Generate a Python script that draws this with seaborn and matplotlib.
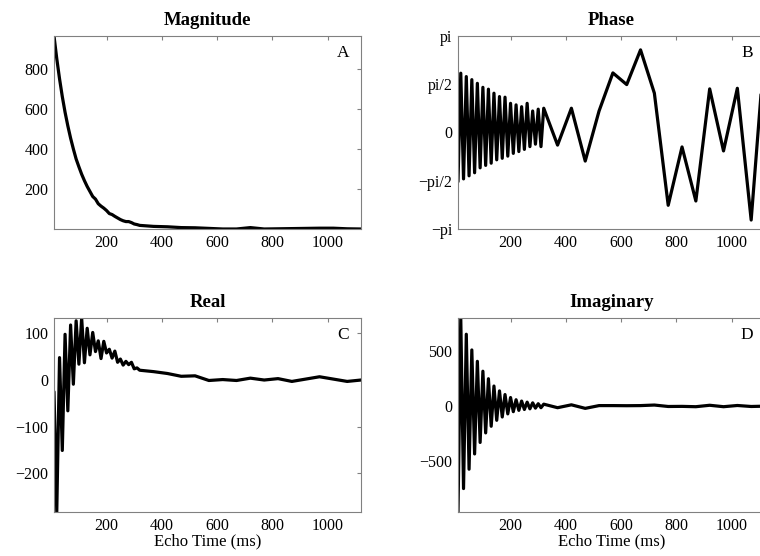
import matplotlib
matplotlib.use("Agg")
import matplotlib.pyplot as plt
import numpy as np
import pandas as pd
import seaborn as sns

# ── Style ─────────────────────────────────────────────────────────────────────
sns.set_theme(style="white")
plt.rcParams.update({
    "font.family": ["Liberation Serif", "DejaVu Serif"],
    "axes.edgecolor": "#808080",
    "axes.linewidth": 0.8,
    "axes.unicode_minus": True,
    "text.color": "black",
    "axes.labelcolor": "black",
    "axes.titlecolor": "black",
    "xtick.labelcolor": "black",
    "ytick.labelcolor": "black",
})
LINE = "black"

# ── Data ──────────────────────────────────────────────────────────────────────
echo_time = [10, 20, 30, 40, 50, 60, 70, 80, 90, 100, 110, 120, 130, 140, 150, 160,
             170, 180, 190, 200, 210, 220, 230, 240, 250, 260, 270, 280, 290, 300,
             310, 320, 370, 420, 470, 520, 570, 620, 670, 720, 770, 820, 870, 920,
             970, 1020, 1070, 1120]

magnitude = [965, 852, 752, 663, 585, 517, 456, 402, 352, 313, 276, 244, 215, 190,
             165, 152, 129, 117, 107, 95, 80, 75, 66, 58, 50, 44, 40, 40, 35, 28,
             25, 21, 16, 14, 10, 9, 6, 3, 3, 10, 3, 4, 5, 6, 7, 7, 4, 3]

phase = [-1.60, 1.93, -1.51, 1.82, -1.41, 1.72, -1.31, 1.60, -1.15, 1.47, -1.07,
         1.41, -1.00, 1.28, -0.89, 1.17, -0.84, 1.15, -0.77, 0.95, -0.68, 0.90,
         -0.62, 0.84, -0.55, 0.95, -0.46, 0.70, -0.38, 0.76, -0.46, 0.79,
         -0.41, 0.79, -0.93, 0.70, 1.94, 1.56, 2.69, 1.28, -2.37, -0.47, -2.23,
         1.42, -0.60, 1.44, -2.85, 2.90]

real = [-25, -283, 48, -151, 98, -66, 118, -9, 127, 34, 133, 37, 111, 54, 102, 61,
        84, 46, 83, 58, 66, 47, 62, 38, 45, 32, 40, 33, 38, 24, 26, 21,
        18, 14, 8, 9, -1, 1, -1, 4, 0, 3, -3, 2, 7, 2, -3, 0]

imaginary = [-957, 797, -745, 650, -570, 508, -432, 405, -328, 316, -242, 248, -182,
             182, -128, 138, -98, 105, -70, 78, -50, 58, -38, 46, -30, 36, -24, 30,
             -18, 22, -14, 18, -14, 12, -20, 5, 5, 4, 5, 10, -3, -2, -5, 8, -5, 6,
             -3, 0]

df = pd.DataFrame({"t": echo_time, "Magnitude": magnitude, "Phase": phase,
                   "Real": real, "Imaginary": imaginary})

# ── Layout (pixel boxes of the reference, 760x556) ────────────────────────────
W, H = 760, 556
boxes = {
    "Magnitude": (54, 36, 307, 193),
    "Phase":     (458, 36, 307, 193),
    "Real":      (54, 318, 307, 194),
    "Imaginary": (458, 318, 307, 194),
}
letters = {"Magnitude": "A", "Phase": "B", "Real": "C", "Imaginary": "D"}

fig = plt.figure(figsize=(W / 100, H / 100), dpi=100)

for name, (x0, y0, w, h) in boxes.items():
    ax = fig.add_axes([x0 / W, 1 - (y0 + h) / H, w / W, h / H])
    sns.lineplot(data=df, x="t", y=name, ax=ax, color=LINE, lw=2.3,
                 estimator=None, sort=False)
    ax.set_xlim(min(echo_time), max(echo_time))
    ax.set_xticks([200, 400, 600, 800, 1000])
    ax.set_ylabel("")
    ax.set_xlabel("")
    if name == "Phase":
        ax.set_ylim(-np.pi, np.pi)
        ax.set_yticks([-np.pi, -np.pi / 2, 0, np.pi / 2, np.pi])
        ax.set_yticklabels(["\u2212pi", "\u2212pi/2", "0", "pi/2", "pi"])
    else:
        ax.set_ylim(df[name].min(), df[name].max())
    if name == "Magnitude":
        ax.set_yticks([200, 400, 600, 800])
    elif name == "Real":
        ax.set_yticks([-200, -100, 0, 100])
    elif name == "Imaginary":
        ax.set_yticks([-500, 0, 500])
    if name in ("Real", "Imaginary"):
        ax.set_xlabel("Echo Time (ms)", fontsize=12, labelpad=0)
    ax.set_title(name, fontsize=13.5, fontweight="bold", pad=8)
    ax.tick_params(direction="in", top=True, right=True, length=3, width=0.8,
                   color="#808080", labelsize=11.5, pad=4)
    ax.text(1 - 18 / w, 1 - 17 / h, letters[name], transform=ax.transAxes,
            ha="center", va="center", fontsize=12.5)
    for s in ax.spines.values():
        s.set_visible(True)

fig.savefig("out.png", dpi=100)
plt.close()
